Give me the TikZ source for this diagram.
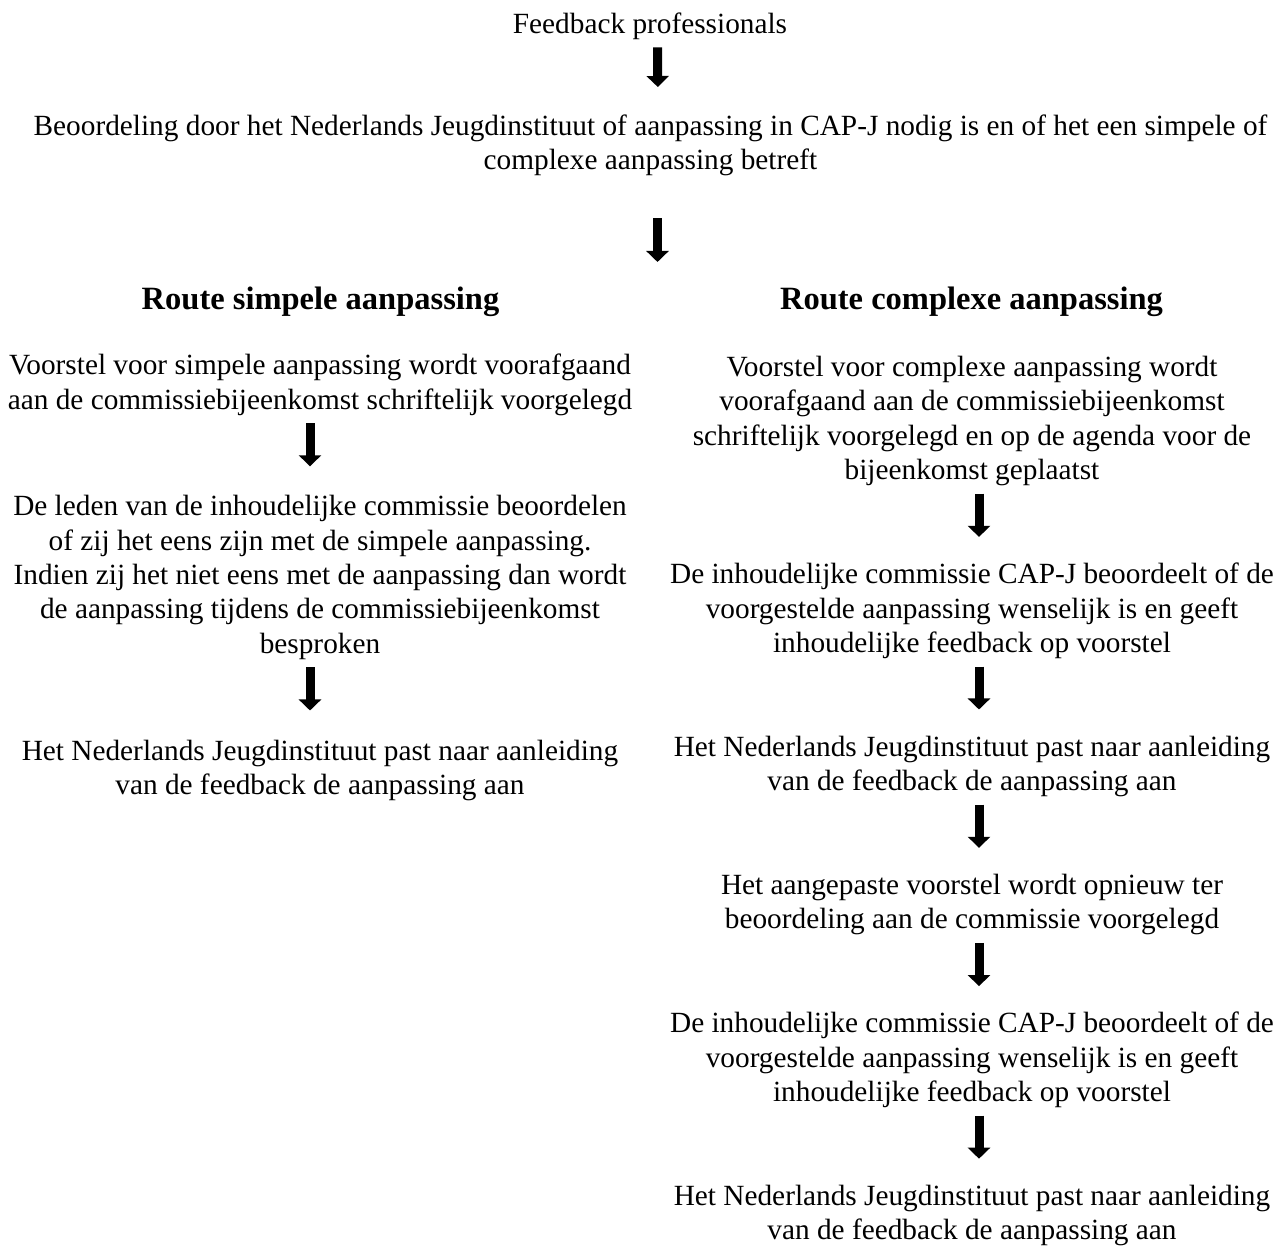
\documentclass[tikz,border=0pt]{standalone}
\usepackage{fontspec}
\setmainfont{Liberation Serif}
\usepackage{tikz}
\usetikzlibrary{arrows.meta,positioning,calc}

\begin{document}
\begin{tikzpicture}[x=1pt, y=-1pt, blk/.style={line width=9pt, -{Triangle[width=22pt,length=11pt]}, shorten <=3.7pt, shorten >=29pt}]
\tikzstyle{txt}=[anchor=north, align=center, inner sep=0pt, font=\fontsize{29.3}{34.3}\selectfont, execute at begin node=\strut, execute at end node=\strut]
\tikzstyle{head}=[txt, font=\fontsize{32.5}{34.3}\selectfont\bfseries]

\useasboundingbox (0,0) rectangle (1288,1249);

\node[txt]  (fb)  at (650,8.99)    {Feedback professionals};
\node[txt]  (beo) at (650.5,114.49) {Beoordeling door het Nederlands Jeugdinstituut of aanpassing in CAP-J nodig is en of het een simpele of\\complexe aanpassing betreft};

\node[head] (hdL) at (320.5,284.99) {Route simpele aanpassing};
\node[head] (hdR) at (971.5,284.99) {Route complexe aanpassing};

% route simpel
\node[txt]  (L1)  at (320,353.99)  {Voorstel voor simpele aanpassing wordt voorafgaand\\aan de commissiebijeenkomst schriftelijk voorgelegd};
\node[txt]  (L2)  at (320,495.29)  {De leden van de inhoudelijke commissie beoordelen\\of zij het eens zijn met de simpele aanpassing.\\Indien zij het niet eens met de aanpassing dan wordt\\de aanpassing tijdens de commissiebijeenkomst\\besproken};
\node[txt]  (L3)  at (320,739.49)  {Het Nederlands Jeugdinstituut past naar aanleiding\\van de feedback de aanpassing aan};

% route complex
\node[txt]  (R1)  at (972,355.99)  {Voorstel voor complexe aanpassing wordt\\voorafgaand aan de commissiebijeenkomst\\schriftelijk voorgelegd en op de agenda voor de\\bijeenkomst geplaatst};
\node[txt]  (R2)  at (972,562.89)  {De inhoudelijke commissie CAP-J beoordeelt of de\\voorgestelde aanpassing wenselijk is en geeft\\inhoudelijke feedback op voorstel};
\node[txt]  (R3)  at (972,735.49)  {Het Nederlands Jeugdinstituut past naar aanleiding\\van de feedback de aanpassing aan};
\node[txt]  (R4)  at (972,873.79)  {Het aangepaste voorstel wordt opnieuw ter\\beoordeling aan de commissie voorgelegd};
\node[txt]  (R5)  at (972,1012.09) {De inhoudelijke commissie CAP-J beoordeelt of de\\voorgestelde aanpassing wenselijk is en geeft\\inhoudelijke feedback op voorstel};
\node[txt]  (R6)  at (972,1184.69) {Het Nederlands Jeugdinstituut past naar aanleiding\\van de feedback de aanpassing aan};

\draw[blk, shorten >=27.5pt] ([xshift=7.5pt]fb.south) -- ([xshift=7.5pt]beo.north);
\draw[blk, shorten <=37.9pt, shorten >=23pt] ([xshift=7pt]beo.south) -- ([xshift=7pt]beo.south |- hdL.north);

\draw[blk] ([xshift=-10pt]L1.south) -- ([xshift=-10pt]L2.north);
\draw[blk] ([xshift=-10pt]L2.south) -- ([xshift=-10pt]L3.north);

\draw[blk, shorten >=26pt] ([xshift=7pt]R1.south) -- ([xshift=7pt]R2.north);
\draw[blk, shorten >=26pt] ([xshift=7pt]R2.south) -- ([xshift=7pt]R3.north);
\draw[blk, shorten >=26pt] ([xshift=7pt]R3.south) -- ([xshift=7pt]R4.north);
\draw[blk, shorten >=26pt] ([xshift=7pt]R4.south) -- ([xshift=7pt]R5.north);
\draw[blk, shorten >=26pt] ([xshift=7pt]R5.south) -- ([xshift=7pt]R6.north);

\end{tikzpicture}
\end{document}
